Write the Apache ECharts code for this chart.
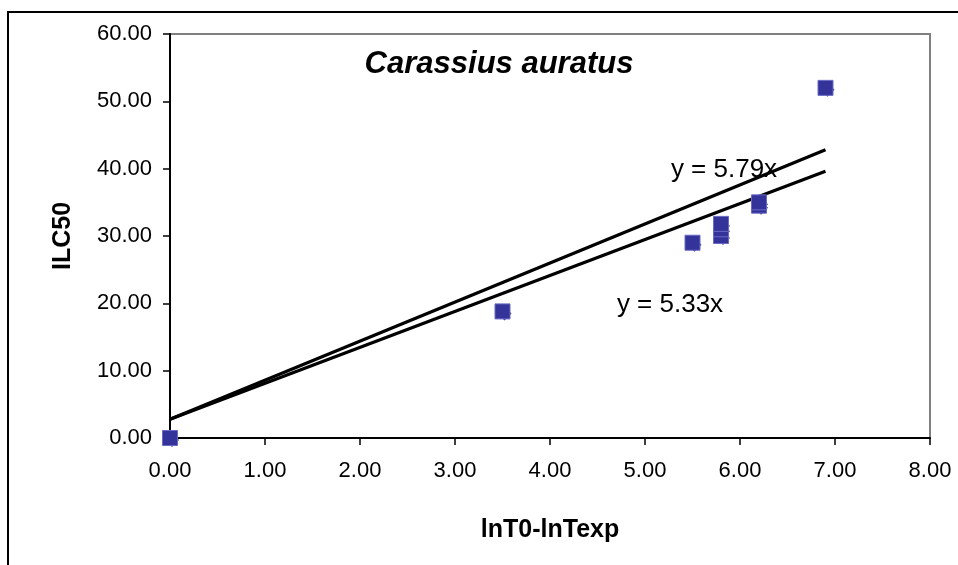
<!DOCTYPE html>
<html>
<head>
<meta charset="utf-8">
<script src="https://cdn.jsdelivr.net/npm/echarts@6/dist/echarts.min.js"></script>
<style>
html,body{margin:0;padding:0;background:#fff;}
#chart{width:958px;height:565px;}
</style>
</head>
<body>
<div id="chart"></div>
<script>
// Observed points (lnT0-lnTexp, ILC50)
const obsX = [0.00, 3.50, 5.50, 5.80, 5.80, 5.80, 6.20, 6.20, 6.90];
const obsY = [0.00, 18.8, 29.0, 30.0, 31.0, 31.8, 34.5, 35.0, 52.0];
// Trend lines (end points)
const line1X = [0.00, 6.90];
const line1Y = [2.8, 42.8];
const line2X = [0.00, 6.90];
const line2Y = [2.8, 39.6];
const xTicks = [0, 1, 2, 3, 4, 5, 6, 7, 8];
const yTicks = [0, 10, 20, 30, 40, 50, 60];
const titleText = 'Carassius auratus';
const xName = 'lnT0-lnTexp';
const yName = 'ILC50';
const eq1 = 'y = 5.79x';
const eq2 = 'y = 5.33x';

const pts = obsX.map((x, i) => [x, obsY[i]]);
const l1 = line1X.map((x, i) => [x, line1Y[i]]);
const l2 = line2X.map((x, i) => [x, line2Y[i]]);

const FONT = '"Liberation Sans", Arial, sans-serif';
const chart = echarts.init(document.getElementById('chart'));
chart.setOption({
  animation: false,
  backgroundColor: '#ffffff',
  grid: {left: 170, right: 28, top: 34, bottom: 127, show: true, borderColor: '#808080', borderWidth: 2, backgroundColor: 'transparent'},
  xAxis: {
    type: 'value', min: xTicks[0], max: xTicks[xTicks.length - 1], interval: 1,
    name: xName, nameLocation: 'middle', nameGap: 80,
    nameTextStyle: {fontFamily: FONT, fontSize: 25, fontWeight: 'bold', color: '#000'},
    axisLine: {show: true, lineStyle: {color: '#000', width: 2}},
    axisTick: {show: true, inside: false, length: 7, lineStyle: {color: '#000', width: 1.5}},
    axisLabel: {fontFamily: FONT, fontSize: 22, color: '#000', margin: 22, formatter: v => v.toFixed(2)},
    splitLine: {show: false}
  },
  yAxis: {
    type: 'value', min: yTicks[0], max: yTicks[yTicks.length - 1], interval: 10,
    name: yName, nameLocation: 'middle', nameGap: 94, nameRotate: 90,
    nameTextStyle: {fontFamily: FONT, fontSize: 25, fontWeight: 'bold', color: '#000'},
    axisLine: {show: true, lineStyle: {color: '#000', width: 2}},
    axisTick: {show: true, inside: false, length: 7, lineStyle: {color: '#000', width: 1.5}},
    axisLabel: {fontFamily: FONT, fontSize: 22, color: '#000', margin: 18, formatter: v => v.toFixed(2)},
    splitLine: {show: false}
  },
  series: [
    {type: 'line', data: l1, symbol: 'none', lineStyle: {color: '#000', width: 3.2}, z: 3},
    {type: 'line', data: l2, symbol: 'none', lineStyle: {color: '#000', width: 3.2}, z: 3},
    {type: 'scatter', data: pts, symbol: 'diamond', symbolSize: 14, symbolOffset: [2, 2],
     itemStyle: {color: '#333399', opacity: 1}, z: 4},
    {type: 'scatter', data: pts, symbol: 'rect', symbolSize: 15,
     itemStyle: {color: '#333399', borderColor: '#6a6ac4', borderWidth: 1, opacity: 1}, z: 5}
  ],
  graphic: [
    {type: 'rect', shape: {x: 8, y: 12, width: 1200, height: 1200}, style: {fill: 'none', stroke: '#000', lineWidth: 2}, z: 100, silent: true},
    {type: 'text', x: 499, y: 64, style: {text: titleText, font: 'italic bold 31px ' + FONT, fill: '#000', textAlign: 'center', textVerticalAlign: 'middle'}, z: 100},
    {type: 'text', x: 724, y: 170, style: {text: eq1, font: '26px ' + FONT, fill: '#000', textAlign: 'center', textVerticalAlign: 'middle'}, z: 100},
    {type: 'text', x: 670, y: 305, style: {text: eq2, font: '26px ' + FONT, fill: '#000', textAlign: 'center', textVerticalAlign: 'middle'}, z: 100}
  ]
});
</script>
</body>
</html>
